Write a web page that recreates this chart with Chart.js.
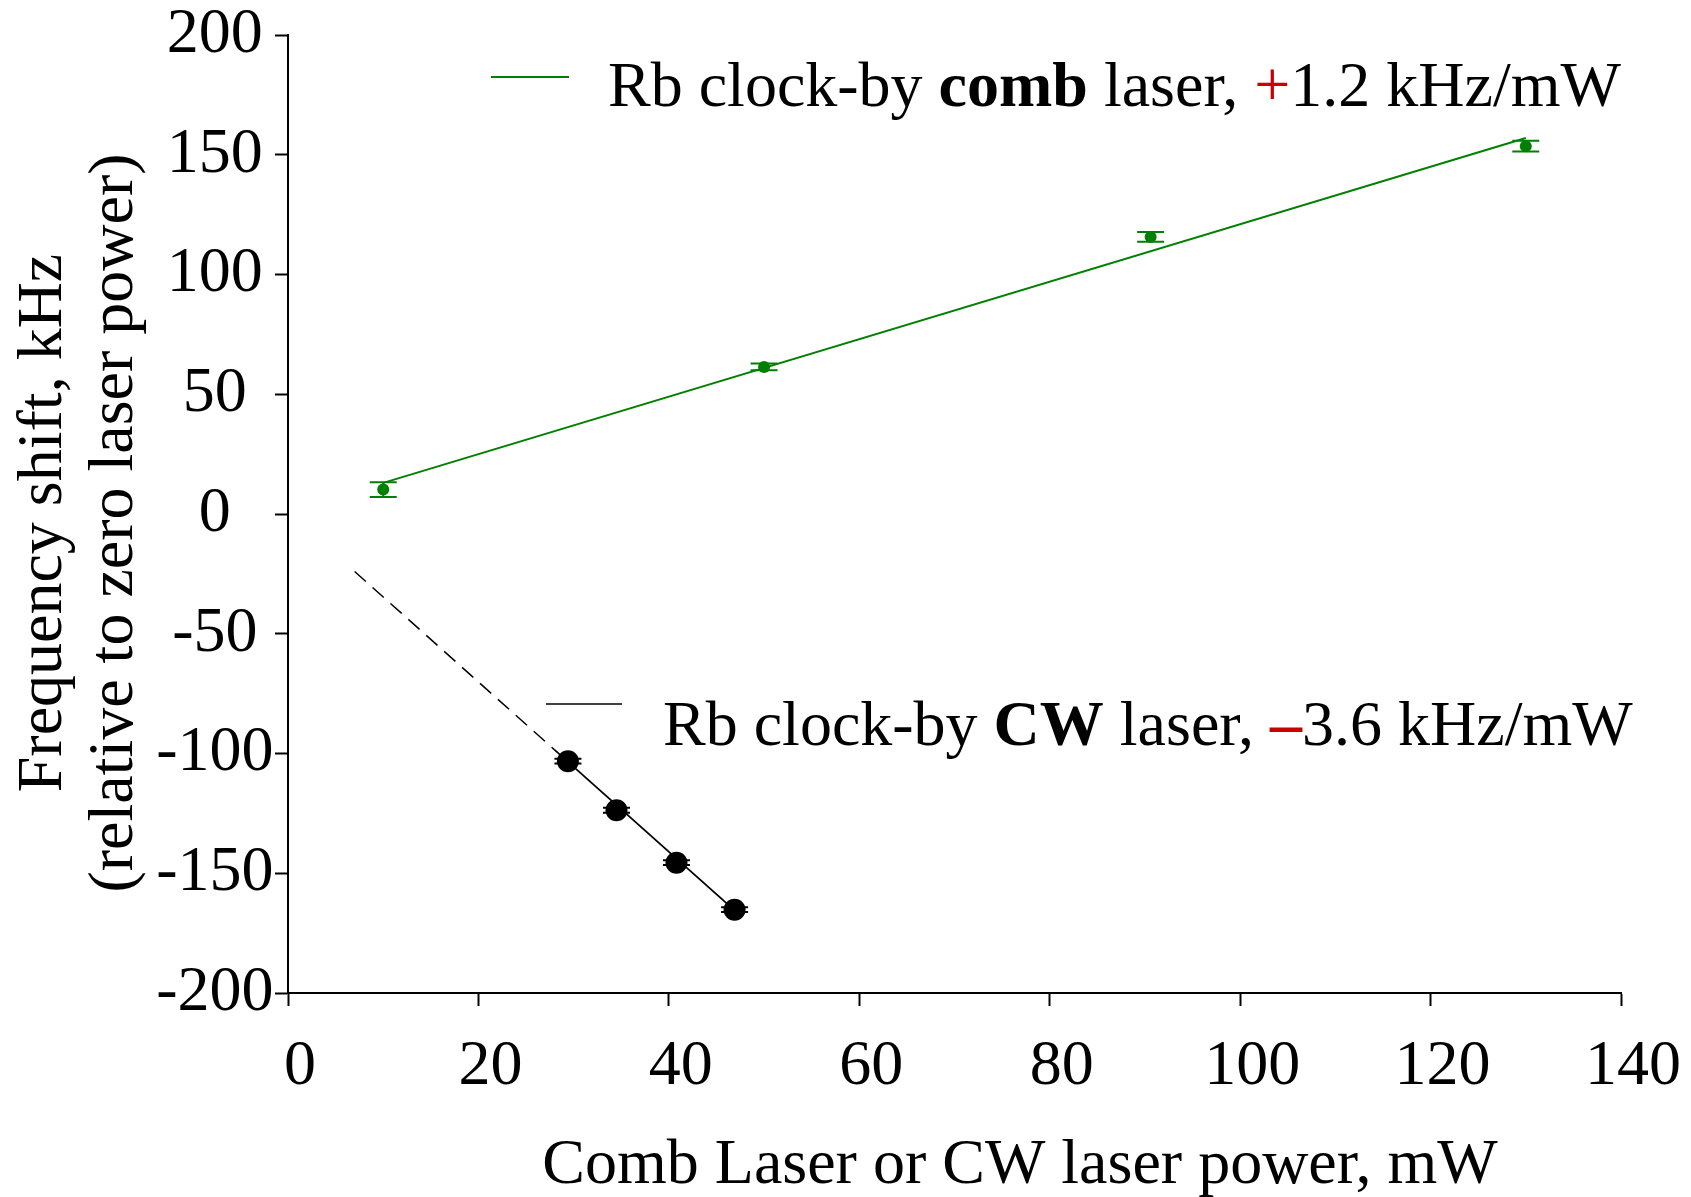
<!DOCTYPE html>
<html>
<head>
<meta charset="utf-8">
<title>Rb clock frequency shift vs laser power</title>
<script src="https://cdn.jsdelivr.net/npm/chart.js@4.4.1/dist/chart.umd.min.js"></script>
<style>
  html, body { margin: 0; padding: 0; background: #ffffff; }
  canvas { display: block; }
</style>
</head>
<body>
<canvas id="chart" width="1691" height="1197"></canvas>
<script>
const SERIF = '"Liberation Serif", "Times New Roman", Times, serif';
const GREEN = '#008000';
const RED = '#cc0000';

// Comb-laser measurements: power (mW), frequency shift (kHz), error (kHz)
const combPower = [10.0, 50.0, 90.6, 130.0];
const combShift = [10.2, 61.4, 115.7, 153.6];
const combErr   = [3.1, 1.4, 2.0, 2.2];

// Linear fit through the comb data (+1.2 kHz/mW)
const combFitPower = [10, 130];
const combFitShift = [13, 157];

// CW-laser measurements
const cwPower = [29.4, 34.5, 40.8, 46.9];
const cwShift = [-103.2, -123.7, -145.6, -165.2];
const cwErr   = [1.0, 1.0, 1.0, 1.0];

// Linear fit through the CW data (-3.6 kHz/mW): solid over the data, dashed extrapolation
const cwFitPower = [28, 46.9];
const cwFitShift = [-98.5, -165.5];
const cwExtPower = [7, 28];
const cwExtShift = [-24, -98.5];

// Axis ranges and tick steps
const xRange = [0, 140];
const xStep = 20;
const yRange = [-200, 200];
const yStep = 50;

// Text
const xTitle = 'Comb Laser or CW laser power, mW';
const yTitleLines = ['Frequency shift, kHz', '(relative to zero laser power)'];
const combLegend = [
  { text: 'Rb clock-by ' },
  { text: 'comb', bold: true },
  { text: ' laser, ' },
  { text: '+', color: RED },
  { text: '1.2 kHz/mW' }
];
const cwLegend = [
  { text: 'Rb clock-by ' },
  { text: 'CW', bold: true },
  { text: ' laser, ' },
  { text: '\u2013', color: RED, bold: true },
  { text: '3.6 kHz/mW' }
];

const toXY = (xs, ys) => xs.map((x, i) => ({ x: x, y: ys[i] }));

// Vertical error bars with caps, drawn beneath the markers
const errorBars = {
  id: 'errorBars',
  beforeDatasetsDraw(chart) {
    const { ctx, scales: { x, y } } = chart;
    chart.data.datasets.forEach(ds => {
      if (!ds.errors) return;
      ctx.save();
      ctx.strokeStyle = ds.borderColor;
      ctx.lineWidth = 2;
      ds.data.forEach((p, j) => {
        const px = x.getPixelForValue(p.x);
        const top = y.getPixelForValue(p.y + ds.errors[j]);
        const bot = y.getPixelForValue(p.y - ds.errors[j]);
        const half = 13.5;
        ctx.beginPath();
        ctx.moveTo(px, top); ctx.lineTo(px, bot);
        ctx.moveTo(px - half, top); ctx.lineTo(px + half, top);
        ctx.moveTo(px - half, bot); ctx.lineTo(px + half, bot);
        ctx.stroke();
      });
      ctx.restore();
    });
  }
};

function drawRich(ctx, parts, x, y, size) {
  let cx = x;
  parts.forEach(p => {
    ctx.font = (p.bold ? 'bold ' : '') + size + 'px ' + SERIF;
    ctx.fillStyle = p.color || '#000';
    ctx.fillText(p.text, cx, y);
    cx += ctx.measureText(p.text).width;
  });
}

// Axis titles and the in-plot legend
const annotations = {
  id: 'annotations',
  afterDraw(chart) {
    const ctx = chart.ctx;
    ctx.save();
    ctx.font = '64px ' + SERIF;
    ctx.fillStyle = '#000';

    // x title
    ctx.textAlign = 'center';
    ctx.textBaseline = 'alphabetic';
    ctx.fillText(xTitle, 1020, 1183);

    // y title, two rotated lines
    ctx.textBaseline = 'middle';
    [44, 115].forEach((cx, i) => {
      ctx.save();
      ctx.translate(cx, 523);
      ctx.rotate(-Math.PI / 2);
      ctx.fillText(yTitleLines[i], 0, 0);
      ctx.restore();
    });

    // legend
    ctx.textAlign = 'left';
    ctx.textBaseline = 'alphabetic';
    ctx.lineWidth = 2;
    ctx.strokeStyle = GREEN;
    ctx.beginPath(); ctx.moveTo(491, 77); ctx.lineTo(569, 77); ctx.stroke();
    drawRich(ctx, combLegend, 608, 106, 64);

    ctx.strokeStyle = '#000';
    ctx.lineWidth = 1.6;
    ctx.beginPath(); ctx.moveTo(546, 704); ctx.lineTo(622, 704); ctx.stroke();
    drawRich(ctx, cwLegend, 663, 745, 64);
    ctx.restore();
  }
};

const tickFont = { family: SERIF, size: 64, lineHeight: 1 };
const axisGrid = { display: true, drawOnChartArea: false, drawTicks: true, tickLength: 13, tickColor: '#000', tickWidth: 2 };
const axisBorder = { display: true, color: '#000', width: 2 };

new Chart(document.getElementById('chart').getContext('2d'), {
  type: 'scatter',
  data: {
    datasets: [
      {
        label: 'comb fit', type: 'line',
        data: toXY(combFitPower, combFitShift),
        borderColor: GREEN, borderWidth: 2, pointRadius: 0, fill: false, tension: 0
      },
      {
        label: 'CW fit', type: 'line',
        data: toXY(cwFitPower, cwFitShift),
        borderColor: '#000', borderWidth: 1.8, pointRadius: 0, fill: false, tension: 0
      },
      {
        label: 'CW extrapolation', type: 'line',
        data: toXY(cwExtPower, cwExtShift),
        borderColor: '#000', borderWidth: 1.5, borderDash: [15, 9], pointRadius: 0, fill: false, tension: 0
      },
      {
        label: 'comb', data: toXY(combPower, combShift), errors: combErr,
        backgroundColor: GREEN, borderColor: GREEN, borderWidth: 0, pointRadius: 6, pointHoverRadius: 6
      },
      {
        label: 'CW', data: toXY(cwPower, cwShift), errors: cwErr,
        backgroundColor: '#000', borderColor: '#000', borderWidth: 0, pointRadius: 11, pointHoverRadius: 11
      }
    ]
  },
  options: {
    responsive: false,
    animation: false,
    events: [],
    layout: { padding: { left: 0, top: 35, right: 70, bottom: 0 } },
    plugins: { legend: { display: false }, tooltip: { enabled: false }, title: { display: false } },
    scales: {
      x: {
        type: 'linear', position: 'bottom',
        min: xRange[0], max: xRange[1],
        afterFit: s => { s.height = 204; s.paddingLeft = 0; s.paddingRight = 0; },
        border: axisBorder,
        grid: axisGrid,
        ticks: { stepSize: xStep, font: tickFont, color: '#000', padding: 29, labelOffset: 12, maxRotation: 0, autoSkip: false },
        title: { display: false }
      },
      y: {
        type: 'linear', position: 'left',
        min: yRange[0], max: yRange[1],
        afterFit: s => { s.width = 288; s.paddingTop = 0; s.paddingBottom = 0; },
        border: axisBorder,
        grid: axisGrid,
        ticks: { stepSize: yStep, font: tickFont, color: '#000', padding: 1.5, crossAlign: 'center', autoSkip: false },
        title: { display: false }
      }
    }
  },
  plugins: [errorBars, annotations]
});
</script>
</body>
</html>
